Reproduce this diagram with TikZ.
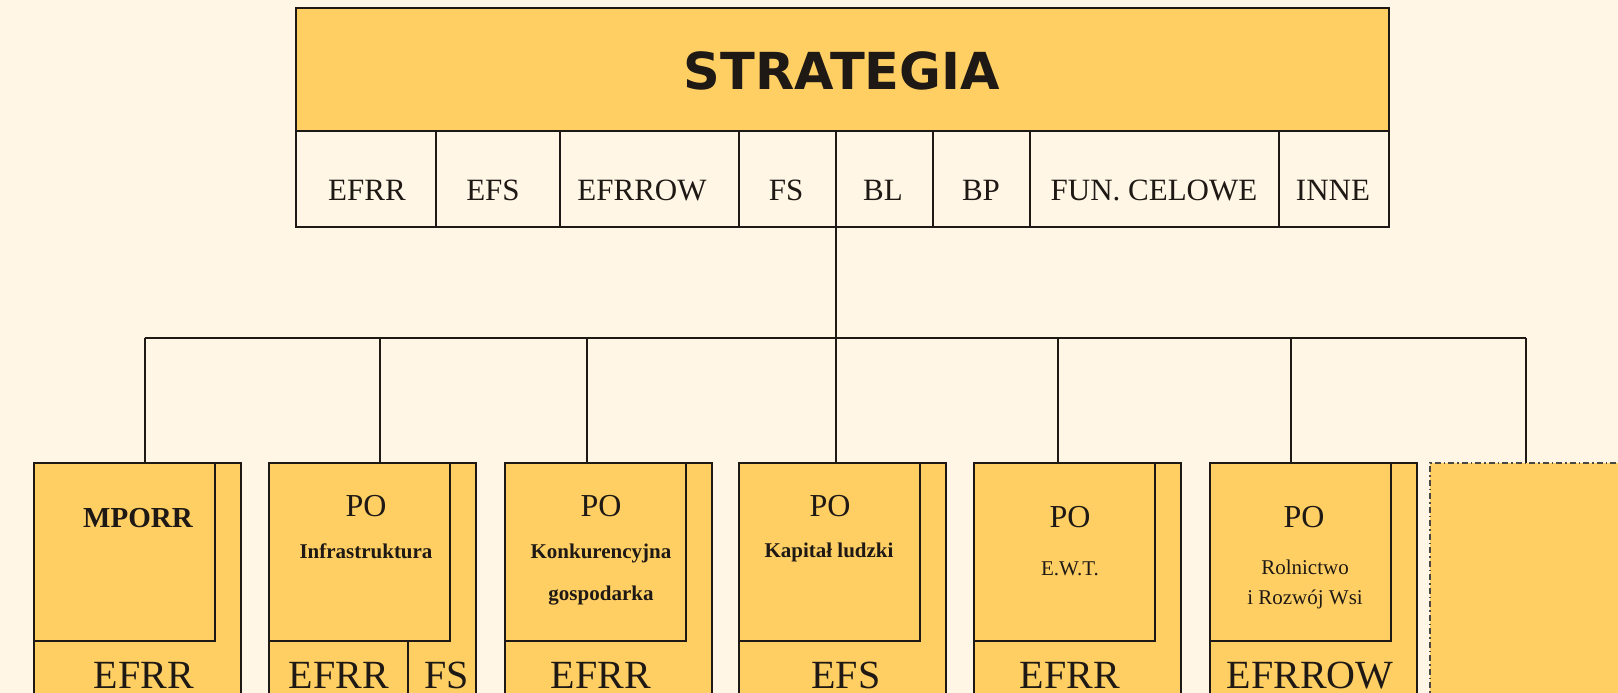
\documentclass[tikz,border=0pt]{standalone}
\usepackage{fontspec}
\setmainfont{Liberation Serif}
\newfontfamily\titlefont{DejaVu Sans}
\definecolor{bg}{RGB}{255,246,230}
\definecolor{gold}{RGB}{255,207,100}
\definecolor{ink}{RGB}{30,25,20}
\begin{document}
\begin{tikzpicture}[x=1pt,y=-1pt,
  box/.style={draw=ink, fill=gold, line width=2pt, inner sep=0pt, outer sep=0pt, anchor=north west},
  cell/.style={draw=ink, fill=bg, line width=2pt, inner sep=0pt, outer sep=0pt, anchor=north west, minimum height=96pt},
  dashbox/.style={draw=ink!80, fill=gold, line width=1.5pt, dash pattern=on 6pt off 3pt on 1.5pt off 3pt, inner sep=0pt, outer sep=0pt, anchor=north west},
  lbl/.style={anchor=base, inner sep=0pt, text=ink},
  rowlbl/.style={lbl, font=\fontsize{31}{31}\selectfont},
  fundlbl/.style={lbl, font=\fontsize{40}{40}\selectfont},
  polbl/.style={lbl, font=\fontsize{32}{32}\selectfont},
  namelbl/.style={lbl, font=\bfseries\fontsize{21}{21}\selectfont},
  namereg/.style={lbl, font=\fontsize{21}{21}\selectfont},
  wire/.style={draw=ink, line width=2pt}]
\fill[bg] (0,0) rectangle (1618,693);
\useasboundingbox (0,0) rectangle (1618,693);

% top box
\node[box, minimum width=1093pt, minimum height=123pt] (strat) at (296,8) {};
\node[lbl, font=\titlefont\bfseries\fontsize{51}{51}\selectfont] (stratlbl) at (842,90) {STRATEGIA};

% row cells
\node[cell, minimum width=139.5pt] (c1) at (296,131) {};
\node[cell, minimum width=124.5pt] (c2) at (435.5,131) {};
\node[cell, minimum width=179pt] (c3) at (560,131) {};
\node[cell, minimum width=97pt] (c4) at (739,131) {};
\node[cell, minimum width=97pt] (c5) at (836,131) {};
\node[cell, minimum width=97pt] (c6) at (933,131) {};
\node[cell, minimum width=248.5pt] (c7) at (1030,131) {};
\node[cell, minimum width=110.5pt] (c8) at (1278.5,131) {};
\node[rowlbl] (l1) at (367,200) {EFRR};
\node[rowlbl] (l2) at (493,200) {EFS};
\node[rowlbl] (l3) at (642,200) {EFRROW};
\node[rowlbl] (l4) at (786,200) {FS};
\node[rowlbl] (l5) at (883,200) {BL};
\node[rowlbl] (l6) at (981,200) {BP};
\node[rowlbl] (l7) at (1154,200) {FUN. CELOWE};
\node[rowlbl] (l8) at (1333,200) {INNE};

% bottom boxes
\foreach \i/\L in {1/34,2/269,3/505,4/739,5/974,6/1210}{
  \node[box, minimum width=207pt, minimum height=260pt] (m\i) at (\L,463) {};
  \node[box, minimum width=181pt, minimum height=178pt] (p\i) at (\L,463) {};
}
\node[dashbox, minimum width=260pt, minimum height=260pt] (m7) at (1430,463) {};
\draw[wire] (408,641) coordinate (fsdiv) -- (fsdiv |- m2.south);

% connectors
\coordinate (hub) at (836,337.5);
\coordinate (d1) at (144.5,337.5);
\coordinate (d2) at (380,337.5);
\coordinate (d3) at (587,337.5);
\coordinate (d4) at (836,337.5);
\coordinate (d5) at (1058,337.5);
\coordinate (d6) at (1291,337.5);
\coordinate (d7) at (1526,337.5);
\draw[wire] (c5.south west) -- (hub);
\draw[wire] (d1) -- (d7);
\foreach \i in {1,...,7}{
  \draw[wire] (d\i) -- (d\i |- m\i.north);
}

% box texts
\node[lbl, font=\bfseries\fontsize{29}{29}\selectfont] (t1) at (138,527) {MPORR};
\node[polbl] (po2) at (366,516) {PO};
\node[namelbl] (t2) at (366,558) {Infrastruktura};
\node[polbl] (po3) at (601,516) {PO};
\node[namelbl] (t3a) at (601,558) {Konkurencyjna};
\node[namelbl] (t3b) at (601,600) {gospodarka};
\node[polbl] (po4) at (830,516) {PO};
\node[namelbl] (t4) at (829,557) {Kapitał ludzki};
\node[polbl] (po5) at (1070,527) {PO};
\node[namereg] (t5) at (1070,575) {E.W.T.};
\node[polbl] (po6) at (1304,527) {PO};
\node[namereg] (t6a) at (1305,574) {Rolnictwo};
\node[namereg] (t6b) at (1305,604) {i Rozwój Wsi};

% fund texts
\node[fundlbl] (f1) at (144,688) {EFRR};
\node[fundlbl] (f2a) at (339,688) {EFRR};
\node[fundlbl] (f2b) at (447,688) {FS};
\node[fundlbl] (f3) at (601,688) {EFRR};
\node[fundlbl] (f4) at (846,688) {EFS};
\node[fundlbl] (f5) at (1070,688) {EFRR};
\node[fundlbl] (f6) at (1310,688) {EFRROW};
\end{tikzpicture}
\end{document}
